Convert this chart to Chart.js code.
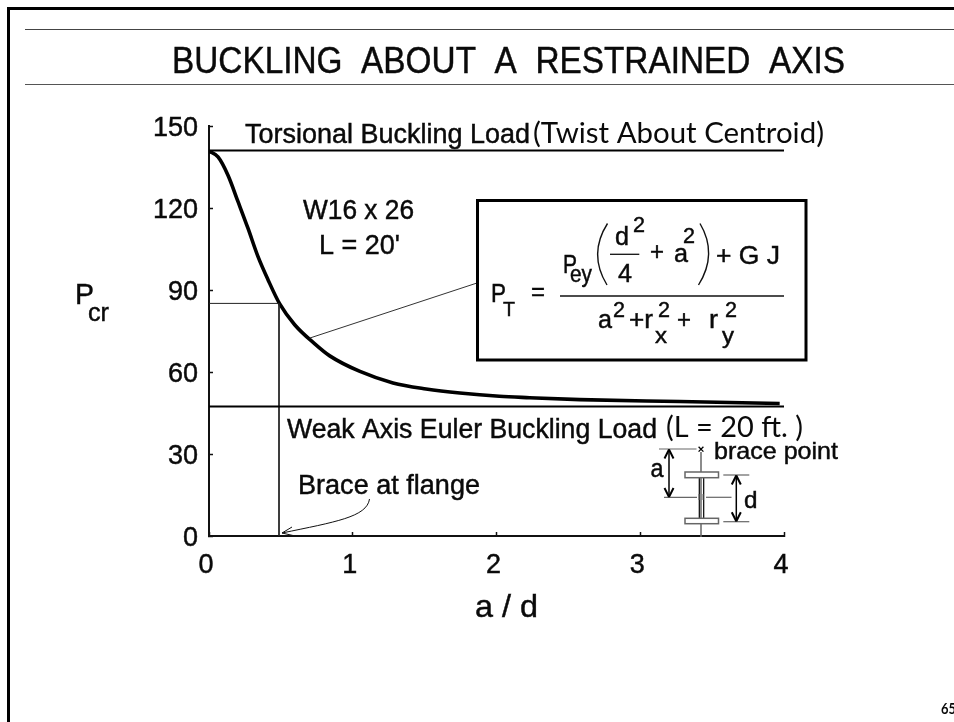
<!DOCTYPE html>
<html>
<head>
<meta charset="utf-8">
<style>html,body{margin:0;padding:0;background:#fff;overflow:hidden}canvas{display:block}</style>
<script src="https://cdn.jsdelivr.net/npm/chart.js@4"></script>
</head>
<body>
<canvas id="c" width="954" height="722"></canvas>
<script>
const xTicks = [0, 1, 2, 3, 4];
const yTicks = [0, 30, 60, 90, 120, 150];
const ratioAD = [0, 0.0626, 0.132, 0.202, 0.271, 0.341, 0.411, 0.492, 0.596, 0.736, 0.84, 1.05, 1.28, 1.51, 1.745, 2.02, 2.23, 2.58, 3.275, 3.97];
const pCritical = [140.8, 138.7, 132, 122.3, 112.6, 102.2, 93.7, 84.9, 77.3, 70.3, 65.9, 60.2, 56, 53.8, 52.3, 51.1, 50.6, 49.9, 49.2, 48.5];
const torsionalX = [0, 4];
const torsionalY = [141, 141];
const eulerX = [0, 4];
const eulerY = [47.4, 47.4];
const braceX = [0, 0.487, 0.487];
const braceY = [85.1, 85.1, 0];
const calloutX = [0.70, 1.861];
const calloutY = [72.4, 92.5];

const pts = (xs, ys) => xs.map((x, i) => ({x, y: ys[i]}));
const HELV = '"Liberation Sans"';
const LATO = 'Lato';

function T(ctx, s, x, base, w, size, fam, weight) {
  ctx.save();
  ctx.font = (weight ? weight + ' ' : '') + size + 'px ' + (fam || HELV);
  ctx.textAlign = 'left';
  ctx.textBaseline = 'alphabetic';
  ctx.fillStyle = '#0a0a0a';
  ctx.translate(x, base);
  if (w) ctx.scale(w / ctx.measureText(s).width, 1);
  ctx.fillText(s, 0, 0);
  if (!fam) {
    ctx.strokeStyle = '#0a0a0a';
    ctx.lineWidth = 0.45;
    ctx.strokeText(s, 0, 0);
  }
  ctx.restore();
}
function L(ctx, x1, y1, x2, y2, lw, col) {
  ctx.beginPath();
  ctx.moveTo(x1, y1);
  ctx.lineTo(x2, y2);
  ctx.lineWidth = lw;
  ctx.strokeStyle = col;
  ctx.stroke();
}
function vArrow(ctx, x, y1, y2) {
  L(ctx, x, y1, x, y2, 1.5, '#000');
  L(ctx, x - 4.5, y1 + 9, x, y1, 2, '#000');
  L(ctx, x + 4.5, y1 + 9, x, y1, 2, '#000');
  L(ctx, x - 4.5, y2 - 9, x, y2, 2, '#000');
  L(ctx, x + 4.5, y2 - 9, x, y2, 2, '#000');
}

const decor = {
  id: 'decor',
  beforeDraw(chart) {
    const c = chart.ctx;
    c.save();
    c.fillStyle = '#fff';
    c.fillRect(0, 0, 954, 722);
    L(c, 8.5, 7, 8.5, 722, 3, '#000');
    L(c, 7, 8.5, 954, 8.5, 3, '#000');
    L(c, 25, 29.5, 954, 29.5, 1.2, '#444');
    L(c, 25, 84.5, 954, 84.5, 1.2, '#555');
    c.restore();
  },
  afterDraw(chart) {
    const c = chart.ctx;
    c.save();
    // headings
    T(c, 'BUCKLING  ABOUT  A  RESTRAINED  AXIS', 172, 72.5, 673, 37);
    T(c, 'Torsional Buckling Load', 245, 142.7, 285, 27);
    T(c, '(Twist About Centroid)', 533, 143, 291, 29, LATO);
    T(c, 'W16 x 26', 303, 219.3, 111, 27);
    T(c, "L = 20'", 319, 254, 81, 27);
    T(c, 'Weak Axis Euler Buckling Load', 287, 438, 370, 27);
    T(c, '(L = 20 ft. )', 666, 437, 137, 29, LATO);
    T(c, 'brace point', 714, 459, 124, 24);
    T(c, 'Brace at flange', 298, 494, 182, 27);
    T(c, 'P', 75, 304, 19, 30);
    T(c, 'cr', 88, 320.7, 21, 25);
    T(c, 'a / d', 475, 617, 63, 32);
    T(c, '65', 941, 714, 15, 15, LATO, 'bold');

    // formula box
    c.fillStyle = '#fff';
    c.fillRect(477, 200, 329, 160);
    c.lineWidth = 3;
    c.strokeStyle = '#000';
    c.strokeRect(477.5, 200.5, 328.5, 159.5);
    T(c, 'P', 491, 301.7, 15, 26);
    T(c, 'T', 503, 316, 12, 20);
    T(c, '=', 531, 300, 14, 26);
    T(c, 'P', 563, 273, 14, 25);
    T(c, 'ey', 570, 281.7, 22, 23);
    T(c, 'd', 615, 245, 14, 26);
    T(c, '2', 633, 231.7, 12, 22);
    T(c, '4', 618, 281.7, 14, 25);
    T(c, '+', 650, 260, 14, 25);
    T(c, 'a', 674, 261.7, 14, 25);
    T(c, '2', 683, 243.3, 12, 22);
    T(c, '+ G J', 716, 264, 64, 25);
    T(c, 'a', 598, 328.3, 14, 25);
    T(c, '2', 613, 316.7, 12, 22);
    T(c, '+r', 629, 328.3, 24, 25);
    T(c, '2', 658, 317.3, 12, 22);
    T(c, 'x', 655, 343.3, 12, 22);
    T(c, '+', 677, 328.3, 14, 25);
    T(c, 'r', 709, 328.3, 9, 25);
    T(c, '2', 725, 317.3, 12, 22);
    T(c, 'y', 722, 343.3, 12, 22);
    L(c, 610, 254.3, 639.3, 254.3, 1.3, '#111');
    L(c, 560, 296, 784, 296, 1.5, '#111');
    c.lineWidth = 1.4;
    c.strokeStyle = '#111';
    c.beginPath();
    c.moveTo(607.5, 223.5);
    c.quadraticCurveTo(588, 254, 607, 285);
    c.stroke();
    c.beginPath();
    c.moveTo(700, 223.5);
    c.quadraticCurveTo(718, 254, 698.5, 285);
    c.stroke();

    // curved pointer to the brace
    c.lineWidth = 1;
    c.strokeStyle = '#111';
    c.beginPath();
    c.moveTo(369.5, 499);
    c.bezierCurveTo(367, 517, 335, 522, 282, 533);
    c.stroke();
    L(c, 282, 533, 292, 527, 1, '#111');
    L(c, 282, 533, 293, 535.5, 1, '#111');

    // I-section sketch
    const g = '#666';
    L(c, 701, 452, 701, 537, 1.5, g);
    L(c, 699.3, 477.7, 699.3, 518.3, 1.2, '#000');
    L(c, 703.7, 477.7, 703.7, 518.3, 1.2, '#000');
    c.lineWidth = 1.5;
    c.strokeStyle = g;
    c.fillStyle = '#fff';
    c.fillRect(685, 472, 33.5, 5.7);
    c.strokeRect(685, 472, 33.5, 5.7);
    c.fillRect(685, 518.3, 33.5, 5.4);
    c.strokeRect(685, 518.3, 33.5, 5.4);
    L(c, 659, 449, 696.5, 449, 1.2, g);
    L(c, 664, 497.3, 697, 497.3, 1.2, g);
    L(c, 706, 497.3, 731.5, 497.3, 1.2, g);
    L(c, 699, 494, 699, 500, 1, g);
    L(c, 703, 494, 703, 500, 1, g);
    L(c, 723.3, 475, 749.3, 475, 1.2, g);
    L(c, 723.3, 521.7, 749.3, 521.7, 1.2, g);
    vArrow(c, 669, 449.5, 497);
    vArrow(c, 736.3, 475.5, 521.3);
    L(c, 698.6, 446.8, 703.4, 451.6, 1.3, '#000');
    L(c, 703.4, 446.8, 698.6, 451.6, 1.3, '#000');
    T(c, 'a', 650.5, 477, 13, 25);
    T(c, 'd', 744, 508, 13.5, 24);
    c.restore();
  }
};

new Chart(document.getElementById('c'), {
  type: 'scatter',
  plugins: [decor],
  data: {
    datasets: [
      {label: 'Torsional Buckling Load', data: pts(torsionalX, torsionalY), showLine: true, borderColor: '#000', borderWidth: 2, pointRadius: 0},
      {label: 'Weak Axis Euler Buckling Load', data: pts(eulerX, eulerY), showLine: true, borderColor: '#000', borderWidth: 2, pointRadius: 0},
      {label: 'Brace at flange', data: pts(braceX, braceY), showLine: true, borderColor: '#222', borderWidth: 1, pointRadius: 0},
      {label: 'Callout', data: pts(calloutX, calloutY), showLine: true, borderColor: '#333', borderWidth: 1, pointRadius: 0},
      {label: 'Pcr', data: pts(ratioAD, pCritical), showLine: true, borderColor: '#000', borderWidth: 3.6, pointRadius: 0, cubicInterpolationMode: 'monotone'}
    ]
  },
  options: {
    responsive: false,
    animation: false,
    devicePixelRatio: 1,
    layout: {autoPadding: false, padding: {left: 0, right: 170, top: 126, bottom: 145}},
    plugins: {legend: {display: false}, title: {display: false}, tooltip: {enabled: false}},
    scales: {
      x: {
        type: 'linear', min: 0, max: 4,
        afterBuildTicks(s) { s.ticks = xTicks.map(v => ({value: v})); },
        afterFit(s) { s.height = 41; },
        border: {display: true, color: '#111', width: 2},
        grid: {drawOnChartArea: false, tickLength: -4, tickColor: '#111', tickWidth: 1.5},
        ticks: {color: '#0a0a0a', font: {family: HELV, size: 27}, padding: 17, labelOffset: -3, maxRotation: 0, autoSkip: false, textStrokeColor: '#0a0a0a', textStrokeWidth: 0.45}
      },
      y: {
        type: 'linear', min: 0, max: 150,
        afterBuildTicks(s) { s.ticks = yTicks.map(v => ({value: v})); },
        afterFit(s) { s.width = 209; },
        border: {display: true, color: '#111', width: 2},
        grid: {drawOnChartArea: false, tickLength: -4, tickColor: '#111', tickWidth: 1.5},
        ticks: {color: '#0a0a0a', font: {family: HELV, size: 27}, padding: 15, labelOffset: 3, autoSkip: false, textStrokeColor: '#0a0a0a', textStrokeWidth: 0.45}
      }
    }
  }
});
</script>
</body>
</html>
